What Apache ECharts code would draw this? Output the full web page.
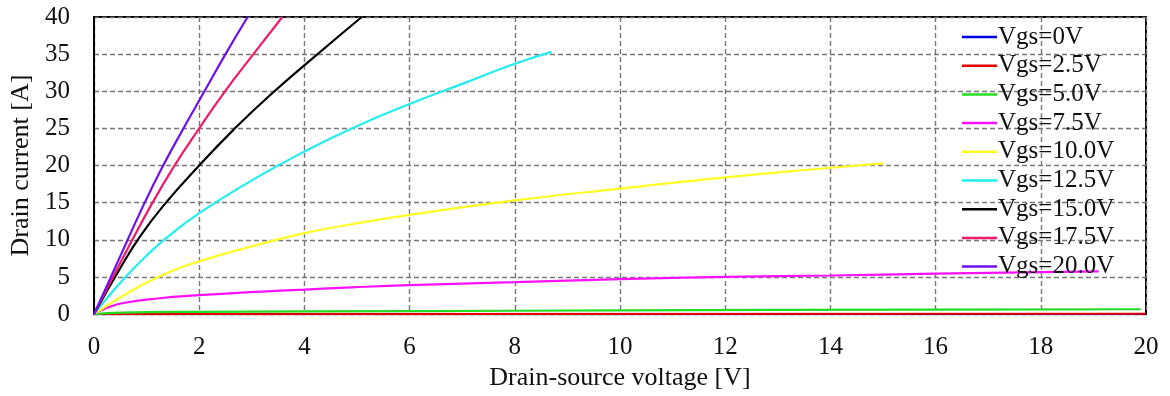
<!DOCTYPE html>
<html>
<head>
<meta charset="utf-8">
<script src="https://cdn.jsdelivr.net/npm/echarts@6/dist/echarts.min.js"></script>
<style>
  html, body { margin: 0; padding: 0; background: #fff; }
  #chart { width: 1170px; height: 396px; }
</style>
</head>
<body>
<div id="chart"></div>
<script>
// legend names, in drawing order
const names = ['Vgs=0V', 'Vgs=2.5V', 'Vgs=5.0V', 'Vgs=7.5V', 'Vgs=10.0V',
  'Vgs=12.5V', 'Vgs=15.0V', 'Vgs=17.5V', 'Vgs=20.0V']
const colors = ['#0000e6', '#e00000', '#22dd22', '#ff10ff', '#ffff22',
  '#22eeee', '#000000', '#ee1a6a', '#6e10ee']

// drain-source voltage [V] and drain current [A]
const vds0 = [0, 20]
const id0 = [0, 0]
const vds2_5 = [0, 20]
const id2_5 = [0, 0.05]
const vds5 = [0, 0.5, 2, 6, 10, 16, 19.9]
const id5 = [0, 0.2, 0.3, 0.4, 0.5, 0.6, 0.65]
const vds7_5 = [0, 0.25, 0.56, 1.2, 2, 3.1, 4, 4.9, 6, 8, 10, 12, 14, 16, 18, 19.1]
const id7_5 = [0, 0.85, 1.5, 2.1, 2.55, 3.0, 3.3, 3.6, 3.9, 4.3, 4.7, 5.0, 5.2, 5.45, 5.65, 5.75]
const vds10 = [0, 0.56, 1.19, 2, 3.1, 4, 4.9, 6, 8, 10, 12, 14, 15]
const id10 = [0, 2.5, 4.9, 7.1, 9.3, 10.9, 12.1, 13.35, 15.3, 16.9, 18.4, 19.7, 20.3]
const vds12_5 = [0, 0.3, 0.6, 1.0, 1.4, 2, 3, 4, 4.9, 6, 7, 8, 8.7]
const id12_5 = [0, 2.6, 5.0, 7.9, 10.4, 13.6, 18.0, 21.9, 25, 28.3, 31, 33.7, 35.3]
const vds15 = [0, 0.5, 0.87, 1.32, 2, 2.65, 3.35, 4.25, 5.09]
const id15 = [0, 6.2, 10.4, 14.6, 20, 24.8, 29.5, 35, 40]
const vds17_5 = [0, 0.5, 1.08, 1.53, 2.0, 2.49, 3.03, 3.58]
const id17_5 = [0, 6.9, 14.6, 20, 25, 30, 35, 40]
const vds20 = [0, 0.5, 0.93, 1.3, 1.7, 2.1, 2.5, 2.92]
const id20 = [0, 7.8, 14.5, 19.8, 25, 30, 35, 40]

const xs = [vds0, vds2_5, vds5, vds7_5, vds10, vds12_5, vds15, vds17_5, vds20]
const ys = [id0, id2_5, id5, id7_5, id10, id12_5, id15, id17_5, id20]

const font = '"Liberation Serif", "DejaVu Serif", serif'

let series = []
for (let i = 0; i < names.length; i++) {
  let pts = []
  for (let j = 0; j < xs[i].length; j++) {
    pts.push([xs[i][j], ys[i][j]])
  }
  series.push({
    name: names[i],
    type: 'line',
    smooth: 0.5,
    showSymbol: false,
    clip: true,
    lineStyle: { width: 2.2, color: colors[i] },
    itemStyle: { color: colors[i] },
    data: pts
  })
}

const option = {
  animation: false,
  textStyle: { fontFamily: font },
  grid: {
    left: 94, right: 24, top: 17, bottom: 81,
    show: true, borderColor: '#000', borderWidth: 2
  },
  legend: {
    data: names,
    orient: 'vertical',
    left: 957,
    top: 19,
    icon: 'rect',
    itemWidth: 35,
    itemHeight: 2.5,
    itemGap: 2.7,
    textStyle: { fontFamily: font, fontSize: 25, lineHeight: 26, color: '#111', padding: [0, 0, 0, -4] }
  },
  xAxis: {
    type: 'value',
    min: 0, max: 20, interval: 2,
    name: 'Drain-source voltage [V]',
    nameLocation: 'middle',
    nameGap: 50,
    nameTextStyle: { fontFamily: font, fontSize: 26, color: '#111' },
    axisLine: { lineStyle: { color: '#000', width: 2 } },
    axisTick: { show: false },
    axisLabel: { fontFamily: font, fontSize: 25, color: '#111', margin: 21 },
    splitLine: { lineStyle: { color: '#777', width: 1.4, type: [5, 3] } }
  },
  yAxis: {
    type: 'value',
    min: 0, max: 40, interval: 5,
    name: 'Drain current [A]',
    nameLocation: 'middle',
    nameGap: 48,
    nameTextStyle: { fontFamily: font, fontSize: 26, color: '#111' },
    axisLine: { show: true, lineStyle: { color: '#000', width: 2 } },
    axisTick: { show: false },
    axisLabel: { fontFamily: font, fontSize: 25, color: '#111', margin: 24 },
    splitLine: { lineStyle: { color: '#777', width: 1.4, type: [5, 3] } }
  },
  series: series
}

const myChart = echarts.init(document.getElementById('chart'))
myChart.setOption(option)
</script>
</body>
</html>
